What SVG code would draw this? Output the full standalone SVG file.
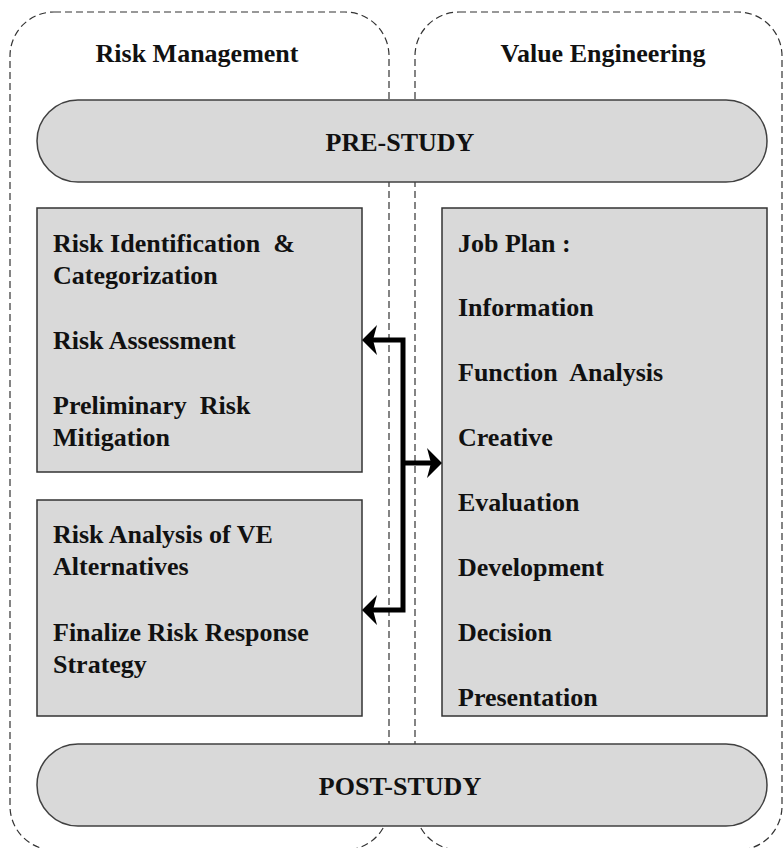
<svg xmlns="http://www.w3.org/2000/svg" width="784" height="848" viewBox="0 0 784 848">
<style>
.cont{fill:none;stroke:#333;stroke-width:1.2;stroke-dasharray:7 4}
.pill{fill:#d9d9d9;stroke:#404040;stroke-width:1.5}
.box{fill:#d9d9d9;stroke:#333;stroke-width:1.5}
text{font-family:"Liberation Serif","Times New Roman",serif;font-weight:bold;font-size:26px;fill:#111;white-space:pre}
.c{text-anchor:middle}
.conn{fill:none;stroke:#000;stroke-width:5;stroke-linejoin:miter}
.head{fill:#000}
</style>
<g id="risk-management-lane">
<rect class="cont" x="10" y="12" width="379" height="838" rx="44" ry="44"/>
<text class="c" x="197" y="62">Risk Management</text>
</g>
<g id="value-engineering-lane">
<rect class="cont" x="415" y="12" width="367" height="838" rx="44" ry="44"/>
<text class="c" x="603" y="62">Value Engineering</text>
</g>
<g id="pre-study">
<rect class="pill" x="37" y="100" width="730" height="82" rx="41" ry="41"/>
<text class="c" x="400" y="151">PRE-STUDY</text>
</g>
<g id="risk-box-1">
<rect class="box" x="37" y="208" width="325" height="264"/>
<text x="53" y="252" xml:space="preserve">Risk Identification  &amp;</text>
<text x="53" y="284">Categorization</text>
<text x="53" y="349">Risk Assessment</text>
<text x="53" y="414" xml:space="preserve">Preliminary  Risk</text>
<text x="53" y="446">Mitigation</text>
</g>
<g id="risk-box-2">
<rect class="box" x="37" y="500" width="325" height="216"/>
<text x="53" y="543">Risk Analysis of VE</text>
<text x="53" y="575">Alternatives</text>
<text x="53" y="641">Finalize Risk Response</text>
<text x="53" y="673">Strategy</text>
</g>
<g id="job-plan">
<rect class="box" x="442" y="208" width="325" height="508"/>
<text x="458" y="252">Job Plan :</text>
<text x="458" y="316">Information</text>
<text x="458" y="381" xml:space="preserve">Function  Analysis</text>
<text x="458" y="446">Creative</text>
<text x="458" y="511">Evaluation</text>
<text x="458" y="576">Development</text>
<text x="458" y="641">Decision</text>
<text x="458" y="706">Presentation</text>
</g>
<g id="post-study">
<rect class="pill" x="37" y="744" width="730" height="82" rx="41" ry="41"/>
<text class="c" x="400" y="795">POST-STUDY</text>
</g>
<g id="connectors">
<path class="conn" d="M372,340 H403 V610 H372"/>
<path class="conn" d="M403,463 H432"/>
<path class="head" d="M362,340 L377,325 L373,340 L377,355 Z"/>
<path class="head" d="M362,610 L377,595 L373,610 L377,625 Z"/>
<path class="head" d="M442,463 L427,448 L431,463 L427,478 Z"/>
</g>
</svg>
